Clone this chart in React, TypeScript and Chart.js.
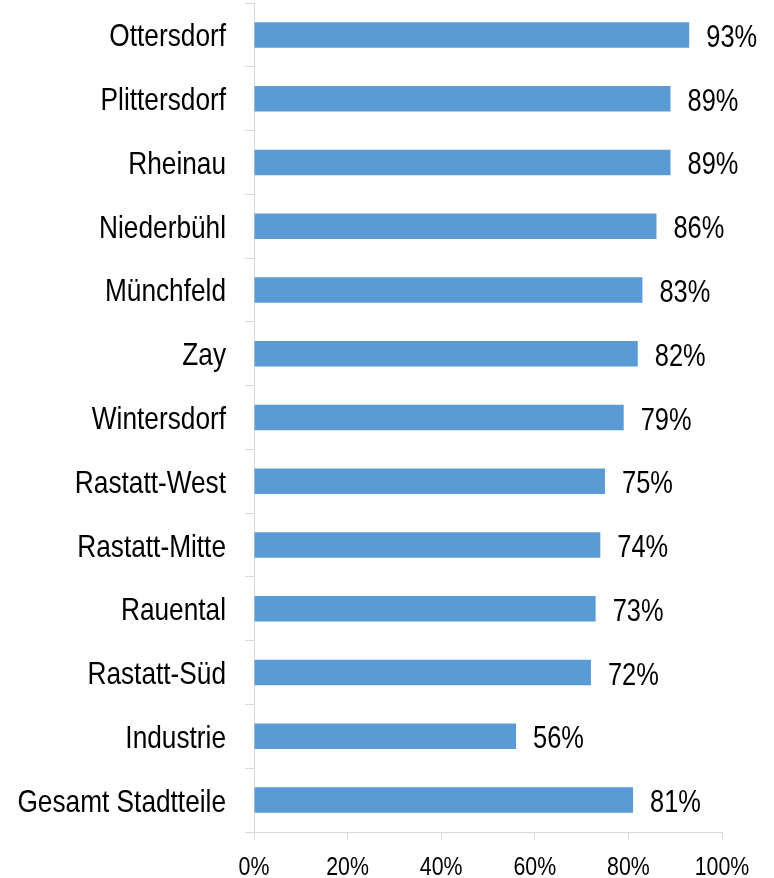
import React, { useEffect, useRef } from "react";
import { Chart, registerables } from "chart.js";

Chart.register(...registerables);

const categories: string[] = [
  "Ottersdorf",
  "Plittersdorf",
  "Rheinau",
  "Niederbühl",
  "Münchfeld",
  "Zay",
  "Wintersdorf",
  "Rastatt-West",
  "Rastatt-Mitte",
  "Rauental",
  "Rastatt-Süd",
  "Industrie",
  "Gesamt Stadtteile",
];

const values: number[] = [93, 89, 89, 86, 83, 82, 79, 75, 74, 73, 72, 56, 81];

const xTicks: number[] = [0, 20, 40, 60, 80, 100];

const FONT = "'Liberation Sans', Arial, sans-serif";
const NARROW = 0.82; // emulate Arial Narrow by horizontal scaling
const BAR_COLOR = "#5B9BD5";
const AXIS_COLOR = "#D9D9D9";

function narrowText(ctx: CanvasRenderingContext2D, text: string, x: number, y: number, align: CanvasTextAlign) {
  ctx.save();
  ctx.translate(x, y);
  ctx.scale(NARROW, 1);
  ctx.textAlign = align;
  ctx.textBaseline = "alphabetic";
  ctx.fillText(text, 0, 0);
  ctx.restore();
}

const labelsPlugin = {
  id: "narrowLabels",
  afterDatasetsDraw(chart: any) {
    const ctx: CanvasRenderingContext2D = chart.ctx;
    const meta = chart.getDatasetMeta(0);
    const xScale = chart.scales.x;
    const yScale = chart.scales.y;
    const area = chart.chartArea;
    ctx.save();
    ctx.fillStyle = "#000";

    // value labels
    ctx.font = `31px ${FONT}`;
    meta.data.forEach((el: any, i: number) => {
      narrowText(ctx, `${values[i]}%`, el.x + 17, el.y + 12, "left");
    });

    // category labels
    ctx.font = `32px ${FONT}`;
    categories.forEach((c, i) => {
      const y = yScale.getPixelForValue(i);
      narrowText(ctx, c, area.left - 28, y + 11.5, "right");
    });

    // x tick labels
    ctx.font = `26px ${FONT}`;
    xTicks.forEach((v) => {
      const x = xScale.getPixelForValue(v);
      narrowText(ctx, `${v}%`, x, area.bottom + 43, "center");
    });
    ctx.restore();
  },
};

export default function App() {
  const canvasRef = useRef<HTMLCanvasElement | null>(null);

  useEffect(() => {
    document.body.style.margin = "0";
    const canvas = canvasRef.current;
    if (!canvas) return;
    const chart = new Chart(canvas, {
      type: "bar",
      data: {
        labels: categories,
        datasets: [
          {
            data: values,
            backgroundColor: BAR_COLOR,
            borderWidth: 0,
            barPercentage: 0.5,
            categoryPercentage: 0.8,
          },
        ],
      },
      options: {
        indexAxis: "y",
        animation: false,
        responsive: false,
        devicePixelRatio: 1,
        layout: { padding: { top: 3, right: 52, left: 0, bottom: 0 } },
        plugins: {
          legend: { display: false },
          tooltip: { enabled: false },
        },
        scales: {
          x: {
            min: 0,
            max: 100,
            afterBuildTicks: (scale: any) => {
              scale.ticks = xTicks.map((v) => ({ value: v }));
            },
            afterFit: (scale: any) => {
              scale.height = 46;
              scale.paddingLeft = 0;
              scale.paddingRight = 0;
            },
            grid: {
              display: true,
              drawOnChartArea: false,
              drawTicks: true,
              tickLength: 8,
              color: AXIS_COLOR,
            },
            border: { display: true, color: AXIS_COLOR, width: 1 },
            ticks: {
              display: false,
              maxRotation: 0,
            },
          },
          y: {
            afterFit: (scale: any) => {
              scale.width = 254;
              scale.paddingTop = 0;
              scale.paddingBottom = 0;
            },
            grid: {
              display: true,
              drawOnChartArea: false,
              drawTicks: true,
              tickLength: 9,
              offset: true,
              color: AXIS_COLOR,
            },
            border: { display: true, color: AXIS_COLOR, width: 1 },
            ticks: {
              display: false,
              autoSkip: false,
            },
          },
        },
      },
      plugins: [labelsPlugin],
    });
    return () => chart.destroy();
  }, []);

  return <canvas ref={canvasRef} width={774} height={878} style={{ display: "block" }} />;
}
